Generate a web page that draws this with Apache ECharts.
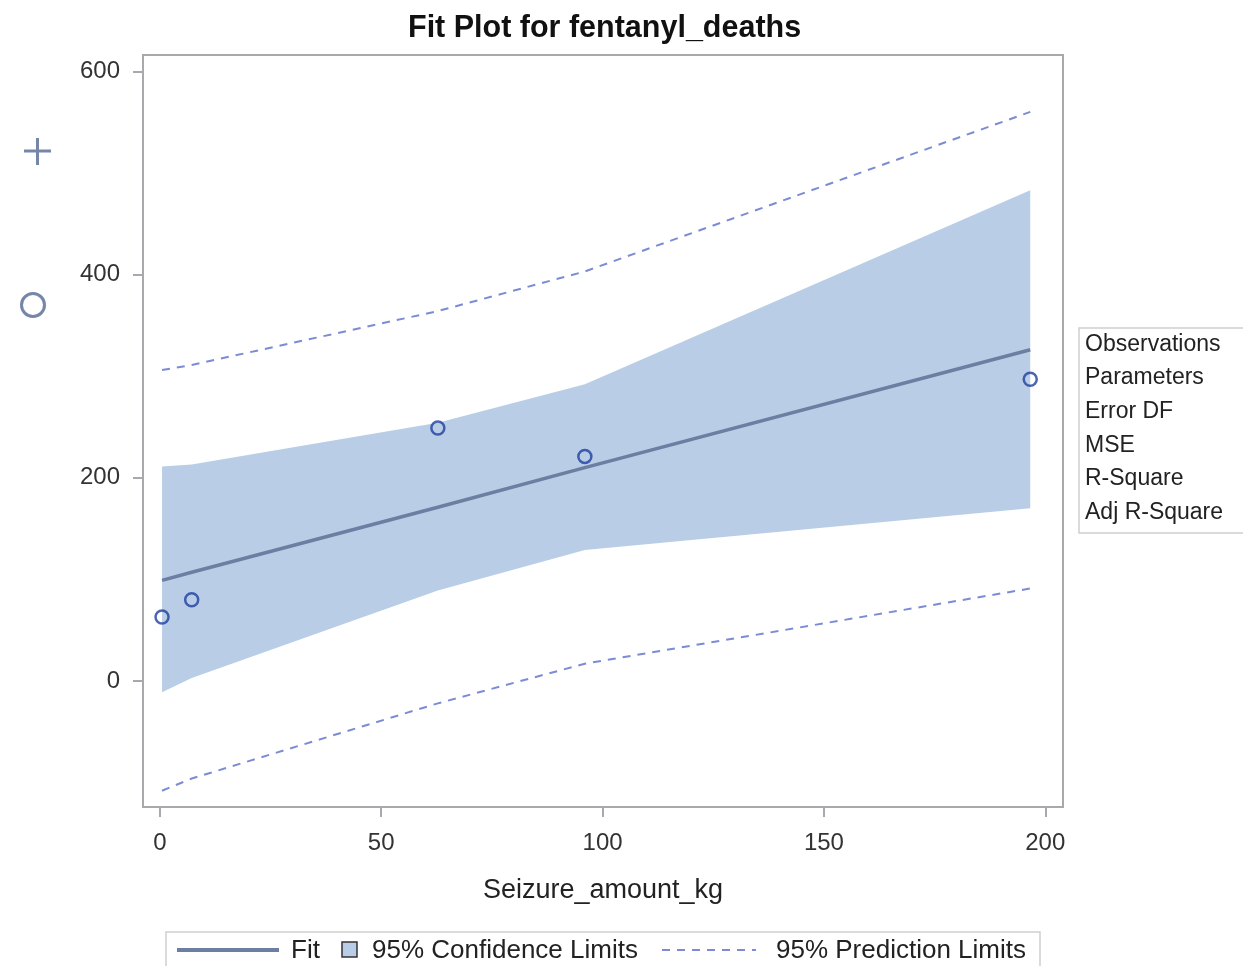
<!DOCTYPE html>
<html>
<head>
<meta charset="utf-8">
<script src="https://cdn.jsdelivr.net/npm/echarts@6/dist/echarts.min.js"></script>
<style>
html,body{margin:0;padding:0;background:#fff;}
#chart{width:1243px;height:966px;}
</style>
</head>
<body>
<div id="chart"></div>
<script>
// ---- data ----
const obsX = [0.5, 7.2, 62.8, 96.0, 196.6];
const obsY = [63, 80, 249, 221, 297];
const fitY = [99, 107, 171, 210, 326];
const ciLower = [-11, 3, 89, 129, 170];
const ciUpper = [211, 213, 254, 292, 483];
const piLower = [-108, -96, -22, 17, 91];
const piUpper = [306, 311, 364, 403, 560];
const xTicks = [0, 50, 100, 150, 200];
const yTicks = [0, 200, 400, 600];
const statLabels = ['Observations', 'Parameters', 'Error DF', 'MSE', 'R-Square', 'Adj R-Square'];
const titleText = 'Fit Plot for fentanyl_deaths';
const xName = 'Seizure_amount_kg';
const legendNames = ['Fit', '95% Confidence Limits', '95% Prediction Limits'];

const FONT = '"Liberation Sans", Arial, sans-serif';
const BAND = '#b9cee6';
const FIT = '#6c7fa3';
const PRED = '#7b8bd4';
const OBS = '#1f3f9f';
const FRAME = '#a7a9ac';

const chart = echarts.init(document.getElementById('chart'), null, {renderer: 'canvas'});

const pair = (xs, ys) => xs.map((x, i) => [x, ys[i]]);

const statTexts = statLabels.map((t, i) => ({
  type: 'text', left: 1085, top: 333 + i * 33.6,
  style: {text: t, font: '23px ' + FONT, fill: '#222'}
}));

const option = {
  animation: false,
  backgroundColor: '#fff',
  title: {
    text: titleText, left: 403, top: 8,
    textStyle: {fontFamily: FONT, fontSize: 30.5, fontWeight: 'bold', color: '#111'}
  },
  grid: {left: 143, right: 180, top: 55, bottom: 159, show: true, borderColor: FRAME, borderWidth: 2, backgroundColor: '#fff'},
  xAxis: {
    type: 'value', min: -3.8, max: 204,
    name: xName, nameLocation: 'middle', nameGap: 70,
    nameTextStyle: {fontFamily: FONT, fontSize: 27, color: '#222'},
    axisLine: {show: true, onZero: false, lineStyle: {color: FRAME, width: 2}},
    axisTick: {show: true, inside: false, length: 10, lineStyle: {color: FRAME, width: 2}, customValues: xTicks},
    axisLabel: {fontFamily: FONT, fontSize: 24, color: '#333', margin: 24, customValues: xTicks},
    splitLine: {show: false}
  },
  yAxis: {
    type: 'value', min: -124, max: 616,
    axisLine: {show: true, onZero: false, lineStyle: {color: FRAME, width: 2}},
    axisTick: {show: true, inside: false, length: 10, lineStyle: {color: FRAME, width: 2}, customValues: yTicks},
    axisLabel: {fontFamily: FONT, fontSize: 24, color: '#333', margin: 23, customValues: yTicks},
    splitLine: {show: false}
  },
  series: [
    {
      type: 'custom', name: legendNames[1], z: 1,
      data: obsX.map((x, i) => [x, ciLower[i], ciUpper[i]]),
      encode: {x: 0, y: [1, 2]},
      renderItem: function (params, api) {
        if (params.dataIndex !== 0) return;
        const pts = [];
        for (let i = 0; i < obsX.length; i++) pts.push(api.coord([obsX[i], ciUpper[i]]));
        for (let i = obsX.length - 1; i >= 0; i--) pts.push(api.coord([obsX[i], ciLower[i]]));
        return {type: 'polygon', shape: {points: pts}, style: {fill: BAND}};
      }
    },
    {
      type: 'line', name: legendNames[0], z: 3, data: pair(obsX, fitY),
      symbol: 'none', lineStyle: {color: FIT, width: 3.5}
    },
    {
      type: 'line', name: legendNames[2], z: 3, data: pair(obsX, piUpper),
      symbol: 'none', lineStyle: {color: PRED, width: 2, type: [8, 7]}
    },
    {
      type: 'line', name: legendNames[2] + ' lower', z: 3, data: pair(obsX, piLower),
      symbol: 'none', lineStyle: {color: PRED, width: 2, type: [8, 7]}
    },
    {
      type: 'scatter', name: 'obs', z: 4, data: pair(obsX, obsY),
      symbol: 'circle', symbolSize: 13,
      itemStyle: {color: 'rgba(255,255,255,0)', borderColor: OBS, borderWidth: 2.5}
    }
  ],
  graphic: [
    // left side icons
    {type: 'line', shape: {x1: 24, y1: 151, x2: 51, y2: 151}, style: {stroke: '#7586a9', lineWidth: 3}},
    {type: 'line', shape: {x1: 37.5, y1: 138, x2: 37.5, y2: 165}, style: {stroke: '#7586a9', lineWidth: 3}},
    {type: 'circle', shape: {cx: 33, cy: 305, r: 11.5}, style: {fill: 'none', stroke: '#7586a9', lineWidth: 3}},
    // right inset box
    {type: 'rect', shape: {x: 1079, y: 328, width: 200, height: 205}, style: {fill: '#fff', stroke: '#cfcfcf', lineWidth: 1.5}},
    ...statTexts,
    // bottom legend
    {type: 'rect', shape: {x: 166, y: 932, width: 874, height: 60}, style: {fill: '#fff', stroke: '#cfcfcf', lineWidth: 1.5}},
    {type: 'line', shape: {x1: 177, y1: 950, x2: 279, y2: 950}, style: {stroke: FIT, lineWidth: 4}},
    {type: 'text', left: 291, top: 938, style: {text: legendNames[0], font: '26px ' + FONT, fill: '#222'}},
    {type: 'rect', shape: {x: 342, y: 942, width: 15, height: 15}, style: {fill: BAND, stroke: '#333', lineWidth: 1.5}},
    {type: 'text', left: 372, top: 938, style: {text: legendNames[1], font: '26px ' + FONT, fill: '#222'}},
    {type: 'line', shape: {x1: 662, y1: 950, x2: 756, y2: 950}, style: {stroke: PRED, lineWidth: 2, lineDash: [8, 7]}},
    {type: 'text', left: 776, top: 938, style: {text: legendNames[2], font: '26px ' + FONT, fill: '#222'}}
  ]
};
chart.setOption(option);
</script>
</body>
</html>
